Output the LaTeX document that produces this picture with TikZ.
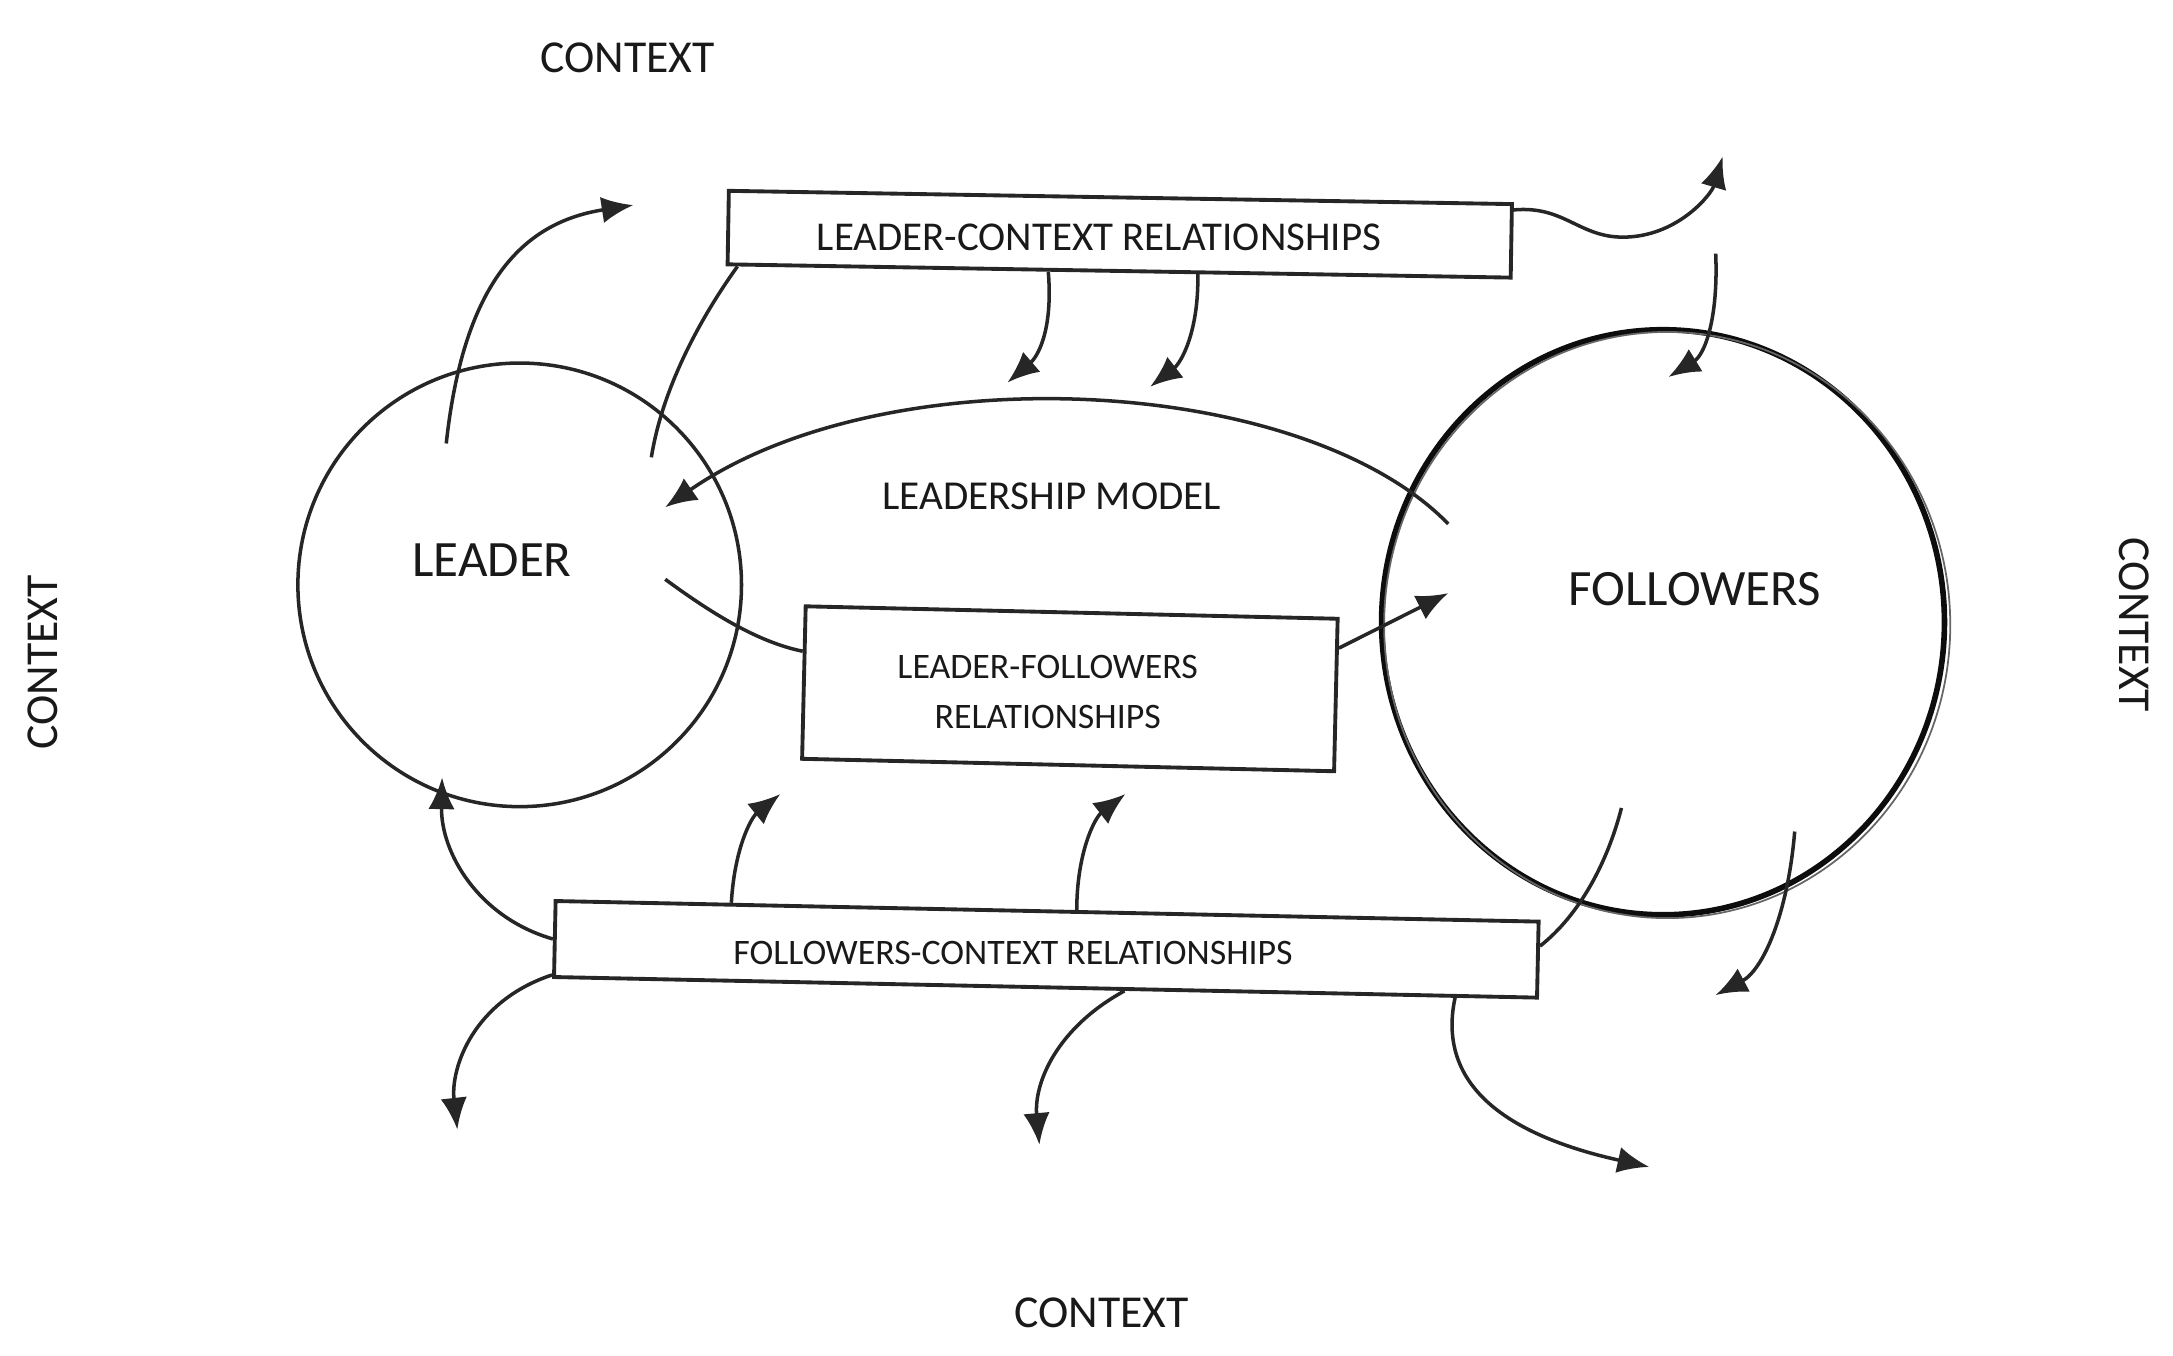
\documentclass[tikz,border=0pt]{standalone}
\usepackage{fontspec}
\setmainfont{Carlito}
\usetikzlibrary{arrows.meta,calc,shapes.geometric}
\begin{document}
\begin{tikzpicture}[x=0.01386cm,y=-0.01386cm,
  ln/.style={draw=black!85, line width=1pt},
  arr/.style={ln, -{Latex[length=9pt,width=7.5pt]}},
  box/.style={draw=black!85, line width=1.1pt, rectangle, inner sep=0pt},
  lbl/.style={text=black!90, inner sep=0pt},
  ctx/.style={lbl, font=\fontsize{13}{15}\selectfont},
  big/.style={lbl, font=\fontsize{14.5}{17}\selectfont}
]
\useasboundingbox (0,0) rectangle (1568,978);

% context labels
\node[ctx] (ctop) at (453,42) {CONTEXT};
\node[ctx, rotate=90] (cleft) at (31,478) {CONTEXT};
\node[ctx, rotate=-90] (cright) at (1540,451) {CONTEXT};
\node[ctx] (cbot) at (795,947) {CONTEXT};

% circles
\node[circle, draw=black!85, line width=1pt, minimum size=4.435cm, inner sep=0pt] (leader) at (375,422) {};
\node[big] (leadertxt) at (355,404) {LEADER};
\node[ellipse, draw=black!95, line width=1.6pt, minimum width=5.627cm, minimum height=5.849cm, inner sep=0pt] (fol) at (1200,449) {};
\draw[black!60, line width=0.5pt] ($(fol.center)+(3,2)$) ellipse [x radius=2.83cm, y radius=2.93cm];
\node[big] (foltxt) at (1223,425) {FOLLOWERS};
\node[lbl, font=\fontsize{11.7}{14}\selectfont] (lm) at (759,358) {LEADERSHIP MODEL};

% boxes
\node[box, minimum width=7.83cm, minimum height=0.735cm, rotate=-0.97] (lcr) at (808,169) {};
\node[lbl, font=\fontsize{11.65}{14}\selectfont] (lcrtxt) at (793,171) {LEADER-CONTEXT RELATIONSHIPS};
\node[box, minimum width=5.32cm, minimum height=1.525cm, rotate=-1.34] (lfr) at (772,497) {};
\node[lbl, align=center, font=\fontsize{10.2}{14.2}\selectfont] (lfrtxt) at (756,499) {LEADER-FOLLOWERS\\RELATIONSHIPS};
\node[box, minimum width=9.83cm, minimum height=0.76cm, rotate=-1.2] (fcr) at (755,685) {};
\node[lbl, font=\fontsize{10.2}{12}\selectfont] (fcrtxt) at (731,688) {FOLLOWERS-CONTEXT RELATIONSHIPS};

% free ends
\coordinate (a1s) at (322,320);
\coordinate (a1e) at (457,148);
\coordinate (a2e) at (470,330);
\coordinate (a3e) at (727,276);
\coordinate (a4e) at (830,279);
\coordinate (a5m) at (1175,171);
\coordinate (a5e) at (1243,113);
\coordinate (a6s) at (1238,183);
\coordinate (a6e) at (1204,272);
\coordinate (a7s) at (1045,378);
\coordinate (a7e) at (480,366);
\coordinate (a8s) at (480,418);
\coordinate (a9e) at (1045,428);
\coordinate (a10e) at (319,561);
\coordinate (a11e) at (563,573);
\coordinate (a12e) at (812,573);
\coordinate (a13e) at (1170,583);
\coordinate (a14s) at (1295,600);
\coordinate (a14e) at (1238,718);
\coordinate (a15e) at (330,815);
\coordinate (a16e) at (750,826);
\coordinate (a17e) at (1190,842);

% connectors
\draw[arr] (a1s) .. controls (335,200) and (380,160) .. (a1e);
\draw[ln] ($(lcr.south west)!0.015!(lcr.south east)$) .. controls (505,230) and (478,280) .. (a2e);
\draw[arr] ($(lcr.south west)!0.41!(lcr.south east)$) .. controls (760,240) and (748,258) .. (a3e);
\draw[arr] ($(lcr.south west)!0.60!(lcr.south east)$) .. controls (865,240) and (852,262) .. (a4e);
\draw[arr] ($(lcr.north east)!0.1!(lcr.south east)$) .. controls (1130,148) and (1140,173) .. (a5m) .. controls (1212,169) and (1235,140) .. (a5e);
\draw[arr] (a6s) .. controls (1240,230) and (1230,256) .. (a6e);
\draw[arr] (a7s) .. controls (940,270) and (640,255) .. (a7e);
\draw[ln] (a8s) .. controls (510,440) and (545,463) .. ($(lfr.north west)!0.3!(lfr.south west)$);
\draw[arr] ($(lfr.north east)!0.2!(lfr.south east)$) -- (a9e);
\draw[arr] ($(fcr.north west)!0.5!(fcr.south west)$) .. controls (345,662) and (318,615) .. (a10e);
\draw[arr] ($(fcr.north west)!0.18!(fcr.north east)$) .. controls (530,612) and (542,590) .. (a11e);
\draw[arr] ($(fcr.north west)!0.53!(fcr.north east)$) .. controls (777,615) and (790,590) .. (a12e);
\draw[ln] ($(fcr.north east)!0.33!(fcr.south east)$) .. controls (1140,660) and (1160,622) .. (a13e);
\draw[arr] (a14s) .. controls (1290,660) and (1272,700) .. (a14e);
\draw[arr] ($(fcr.north west)!0.95!(fcr.south west)$) .. controls (342,722) and (325,770) .. (a15e);
\draw[arr] ($(fcr.south west)!0.58!(fcr.south east)$) .. controls (762,742) and (746,782) .. (a16e);
\draw[arr] ($(fcr.south west)!0.915!(fcr.south east)$) .. controls (1035,790) and (1100,822) .. (a17e);
\end{tikzpicture}
\end{document}
